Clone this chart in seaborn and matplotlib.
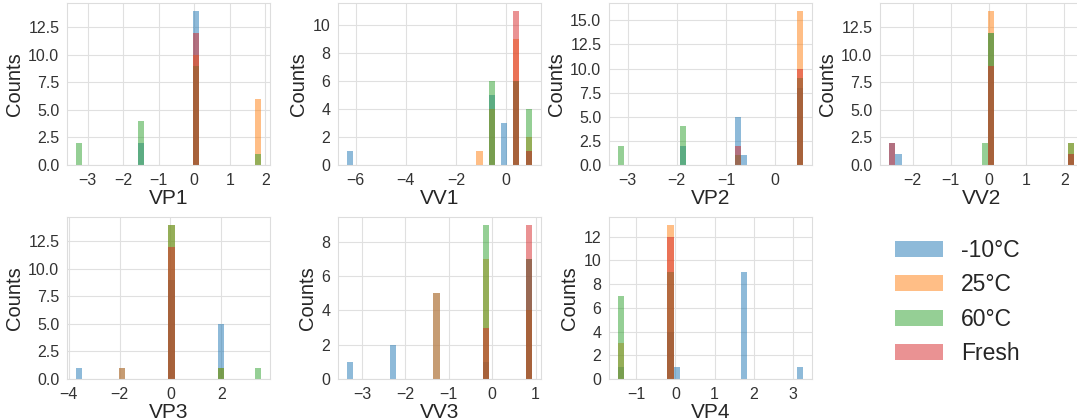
import numpy as np
import pandas as pd
import matplotlib
matplotlib.use("Agg")
import matplotlib.pyplot as plt
from matplotlib.patches import Patch
from matplotlib.ticker import MaxNLocator
import seaborn as sns

groups = ["-10°C", "25°C", "60°C", "Fresh"]
colors = ["#1f77b4", "#ff7f0e", "#2ca02c", "#d62728"]
panel_names = ["VP1", "VV1", "VP2", "VV2", "VP3", "VV3", "VP4"]

# sample values (bar positions) for each panel
vp1_x = [-3.32, -1.50, 0.00, 1.87]
vv1_x = [-6.34, -1.15, -0.65, -0.13, 0.38, 1.02]
vp2_x = [-3.19, -1.85, -0.80, -0.67, 0.56]
vv2_x = [-2.62, -2.40, -0.15, 0.02, 2.25]
vp3_x = [-3.71, -1.86, -0.05, 1.93, 3.56]
vv3_x = [-3.34, -2.25, -1.25, -0.19, 0.91]
vp4_x = [-1.46, -0.10, 0.07, 1.70, 3.25]

# counts per group at those values: -10°C, 25°C, 60°C, Fresh
vp1_n = [[0, 2, 14, 0], [0, 0, 10, 6], [2, 4, 9, 1], [0, 0, 12, 0]]
vv1_n = [[1, 0, 5, 3, 6, 1], [0, 1, 4, 0, 9, 2], [0, 0, 6, 0, 6, 4], [0, 0, 0, 0, 11, 1]]
vp2_n = [[0, 2, 5, 1, 8], [0, 0, 0, 0, 16], [2, 4, 1, 0, 9], [0, 0, 2, 0, 10]]
vv2_n = [[2, 1, 0, 12, 1], [0, 0, 0, 14, 2], [0, 0, 2, 12, 2], [2, 0, 0, 9, 1]]
vp3_n = [[1, 1, 9, 5, 0], [0, 1, 14, 1, 0], [0, 0, 14, 1, 1], [0, 0, 12, 0, 0]]
vv3_n = [[1, 2, 5, 1, 7], [0, 0, 5, 7, 4], [0, 0, 0, 9, 7], [0, 0, 0, 3, 9]]
vp4_n = [[1, 4, 1, 9, 1], [3, 13, 0, 0, 0], [7, 9, 0, 0, 0], [0, 12, 0, 0, 0]]

panel_x = [vp1_x, vv1_x, vp2_x, vv2_x, vp3_x, vv3_x, vp4_x]
panel_n = [vp1_n, vv1_n, vp2_n, vv2_n, vp3_n, vv3_n, vp4_n]

sns.set_style("whitegrid")
plt.rcParams["font.family"] = ["Liberation Sans", "DejaVu Sans"]
plt.rcParams["axes.edgecolor"] = "#dddddd"
plt.rcParams["grid.color"] = "#e0e0e0"

W, H = 1077, 420
fig = plt.figure(figsize=(W / 100, H / 100), dpi=100)

left0, pitch, aw = 67, 271, 203
row_tops = [3, 217]
ah = 162

palette = dict(zip(groups, colors))
# seaborn draws hue levels in reverse order; this order puts -10°C at the bottom, Fresh on top
draw_order = groups[::-1]

axes = []
for i in range(8):
    r, c = divmod(i, 4)
    x0 = left0 + c * pitch
    y0 = row_tops[r]
    ax = fig.add_axes([x0 / W, 1 - (y0 + ah) / H, aw / W, ah / H])
    axes.append(ax)

for i, name in enumerate(panel_names):
    ax = axes[i]
    rows = []
    for g, counts in zip(groups, panel_n[i]):
        for xv, n in zip(panel_x[i], counts):
            if n > 0:
                rows.append({"value": xv, "n": n, "group": g})
    df = pd.DataFrame(rows)
    sns.histplot(data=df, x="value", weights="n", hue="group", hue_order=draw_order,
                 palette=palette, bins=30, multiple="layer", alpha=0.5,
                 linewidth=0, legend=False, ax=ax)
    ax.xaxis.set_major_locator(MaxNLocator(nbins=7, steps=[1, 2, 2.5, 5, 10]))
    ax.yaxis.set_major_locator(MaxNLocator(nbins=7, steps=[1, 2, 2.5, 5, 10]))
    ax.set_xlabel(name, fontsize=15, labelpad=1)
    ax.set_ylabel("Counts", fontsize=14.5, labelpad=3)
    ax.tick_params(axis="both", labelsize=11.5, colors="#333333", pad=2)
    for sp in ax.spines.values():
        sp.set_color("#dddddd")

axes[7].axis("off")
handles = [Patch(facecolor=c, alpha=0.5, edgecolor="none", label=g) for g, c in zip(groups, colors)]
fig.legend(handles=handles, loc="center", bbox_to_anchor=(0.889, 0.281),
           fontsize=16.5, frameon=False, handlelength=2.1, handleheight=0.7,
           labelspacing=0.5, handletextpad=0.8)

fig.savefig("out.png", dpi=100)
